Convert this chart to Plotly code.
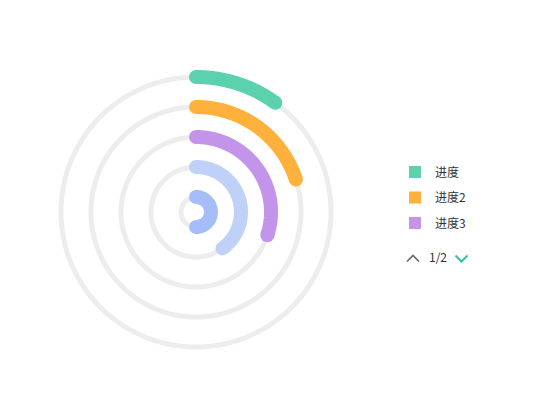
import numpy as np
import plotly.graph_objects as go

# ---- data ----
names = ["进度", "进度2", "进度3", "进度4", "进度5"]
values = [10, 20, 30, 40, 50]
max_value = 100
colors = ["#5BD1AD", "#FFB13B", "#C295EB", "#C0D1F9", "#A5BEF9"]
legend_page_names = ["进度", "进度2", "进度3"]
page_label = "1/2"

W, H = 551, 409
track_color = "#EDEDED"
bar_width = 14

fig = go.Figure()

# background tracks
for nm in names:
    th = np.linspace(0, 360, 241)
    fig.add_trace(go.Scatterpolar(
        r=[nm] * len(th), theta=th, mode="lines",
        line=dict(color=track_color, width=5),
        showlegend=False, hoverinfo="skip"))

# progress arcs with round caps
for nm, v, c in zip(names, values, colors):
    end = v / max_value * 360
    n = max(int(end * 2), 2)
    th = np.linspace(0, end, n)
    sizes = [0] * n
    sizes[0] = bar_width
    sizes[-1] = bar_width
    fig.add_trace(go.Scatterpolar(
        r=[nm] * n, theta=th, mode="lines+markers",
        line=dict(color=c, width=bar_width),
        marker=dict(size=sizes, color=c, opacity=1, line=dict(width=0)),
        name=nm, showlegend=False, legendgroup=nm))

# legend entries (page 1)
for nm, c in zip(names, colors):
    if nm not in legend_page_names:
        continue
    fig.add_trace(go.Scatterpolar(
        r=[None], theta=[None], mode="markers",
        marker=dict(symbol="square", size=12, color=c),
        name=nm, legendgroup=nm, showlegend=True))


def px(x, y):
    return x / W, 1 - y / H


cx, cy, R = 196, 212, 150
x0, _ = px(cx - R, 0)
x1, _ = px(cx + R, 0)
_, y1 = px(0, cy - R)
_, y0 = px(0, cy + R)

fig.update_layout(
    width=W, height=H,
    margin=dict(l=0, r=0, t=0, b=0),
    paper_bgcolor="white",
    font=dict(family="Noto Sans CJK SC, sans-serif", size=12, color="#333"),
    polar=dict(
        domain=dict(x=[x0, x1], y=[y0, y1]),
        bgcolor="white",
        hole=0,
        radialaxis=dict(type="category",
                        categoryorder="array",
                        categoryarray=names[::-1],
                        range=[-0.5, len(names) - 0.5],
                        visible=False, showgrid=False),
        angularaxis=dict(rotation=90, direction="clockwise",
                         visible=False, showgrid=False),
    ),
    legend=dict(x=395 / W, y=1 - 157.5 / H, xanchor="left", yanchor="top",
                bgcolor="rgba(0,0,0,0)", tracegroupgap=6.5,
                font=dict(size=12, color="#333")),
    showlegend=True,
)

# legend pager
ax, ay = px(407, 261.5)
bx, by = px(413, 255.5)
cx2, cy2 = px(419, 261.5)
fig.add_shape(type="path", xref="paper", yref="paper",
              path=f"M{ax},{ay} L{bx},{by} L{cx2},{cy2}",
              line=dict(color="#666", width=1.6))
ax, ay = px(455.5, 255.5)
bx, by = px(461.5, 261.5)
cx2, cy2 = px(467.5, 255.5)
fig.add_shape(type="path", xref="paper", yref="paper",
              path=f"M{ax},{ay} L{bx},{by} L{cx2},{cy2}",
              line=dict(color="#33C4A1", width=2))
tx, ty = px(426.5, 256)
fig.add_annotation(x=tx, y=ty, xref="paper", yref="paper", text=page_label,
                   xanchor="left", showarrow=False,
                   font=dict(size=12, color="#333"))

fig.write_html("out.html")
